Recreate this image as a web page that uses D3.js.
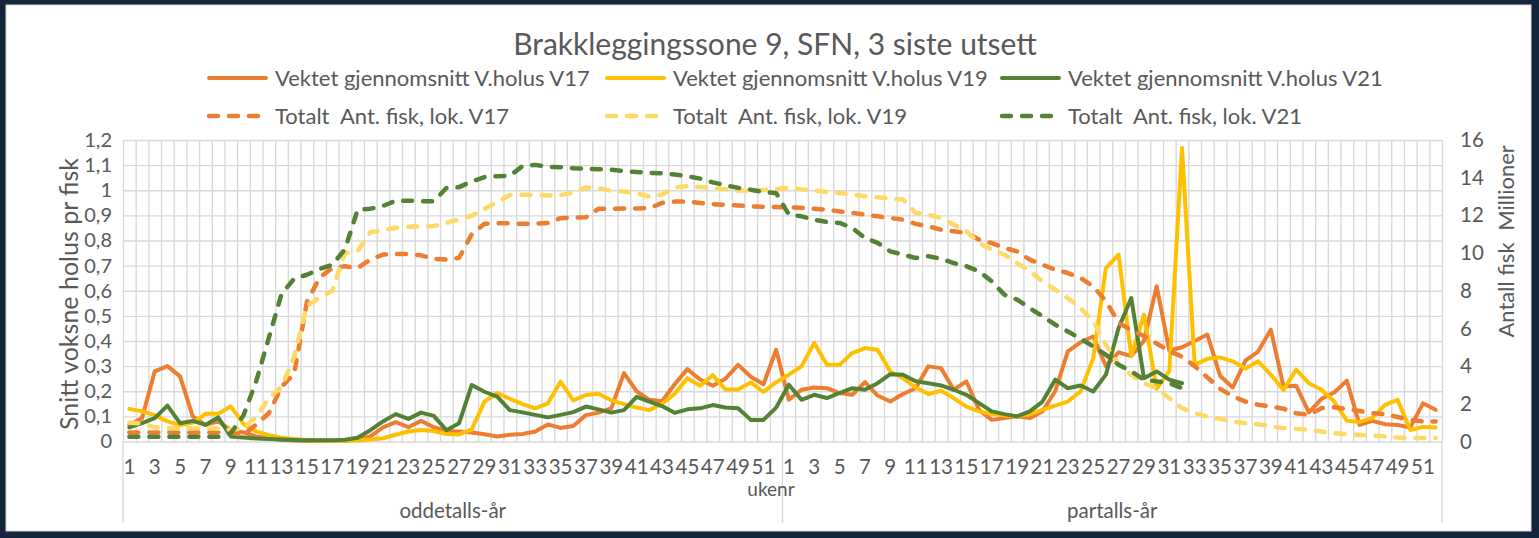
<!DOCTYPE html>
<html>
<head>
<meta charset="utf-8">
<script src="https://cdn.jsdelivr.net/npm/d3@7"></script>
<style>
  body { margin: 0; background: #13243b; }
  text { font-family: Lato, "Open Sans", sans-serif; fill: #595959; }
</style>
</head>
<body>
<div id="chart"></div>
<script>
// week numbers, one year of categories (repeated for odd and even year)
var weeks = [1,2,3,4,5,6,7,8,9,10,11,12,13,14,15,16,17,18,19,20,21,22,23,24,25,26,
             27,28,29,30,31,32,33,34,35,36,37,38,39,40,41,42,43,44,45,46,47,48,49,50,51,52];
var groups = ["oddetalls-år", "partalls-år"];
var leftTicks = [0,0.1,0.2,0.3,0.4,0.5,0.6,0.7,0.8,0.9,1,1.1,1.2];
var rightTicks = [0,2,4,6,8,10,12,14,16];

// Vektet gjennomsnitt V.holus (left axis), odd year then even year
var holusV17 = [0.066,0.093,0.279,0.300,0.259,0.100,0.066,0.080,0.046,0.036,
  0.020,0.013,0.007,0.004,0.003,0.003,0.003,0.003,0.007,0.020,
  0.056,0.077,0.057,0.082,0.057,0.042,0.040,0.036,0.029,0.020,
  0.027,0.030,0.040,0.068,0.054,0.062,0.105,0.115,0.132,0.272,
  0.200,0.166,0.160,0.228,0.288,0.247,0.222,0.250,0.305,0.258,
  0.228,0.365,
  0.166,0.206,0.215,0.212,0.193,0.186,0.236,0.183,0.159,0.189,
  0.212,0.299,0.292,0.206,0.239,0.126,0.086,0.093,0.100,0.093,
  0.120,0.200,0.359,0.395,0.418,0.300,0.355,0.340,0.400,0.618,
  0.362,0.375,0.400,0.426,0.262,0.215,0.322,0.358,0.445,0.220,
  0.222,0.116,0.170,0.195,0.242,0.066,0.082,0.069,0.066,0.056,
  0.152,0.126];
var holusV19 = [0.130,0.120,0.105,0.080,0.065,0.075,0.110,0.110,0.140,0.070,
  0.040,0.025,0.015,0.010,0.006,0.004,0.003,0.003,0.004,0.008,
  0.013,0.027,0.040,0.046,0.042,0.030,0.028,0.048,0.159,0.193,
  0.170,0.149,0.132,0.152,0.238,0.164,0.185,0.190,0.164,0.149,
  0.135,0.125,0.150,0.190,0.252,0.222,0.264,0.207,0.207,0.235,
  0.197,0.236,
  0.266,0.299,0.392,0.305,0.305,0.352,0.372,0.365,0.279,0.252,
  0.215,0.189,0.202,0.173,0.139,0.120,0.109,0.104,0.100,0.109,
  0.126,0.143,0.159,0.199,0.332,0.690,0.744,0.340,0.505,0.210,
  0.280,1.168,0.305,0.329,0.335,0.319,0.290,0.319,0.266,0.205,
  0.286,0.232,0.206,0.159,0.083,0.078,0.093,0.146,0.166,0.046,
  0.058,0.056];
var holusV21 = [0.056,0.073,0.093,0.143,0.073,0.082,0.066,0.096,0.020,0.016,
  0.012,0.010,0.008,0.006,0.005,0.005,0.005,0.007,0.015,0.045,
  0.080,0.109,0.090,0.115,0.102,0.045,0.073,0.225,0.198,0.179,
  0.125,0.116,0.106,0.096,0.106,0.117,0.139,0.128,0.115,0.125,
  0.178,0.159,0.141,0.114,0.128,0.132,0.145,0.135,0.132,0.086,
  0.086,0.135,
  0.226,0.166,0.186,0.173,0.193,0.212,0.206,0.232,0.268,0.266,
  0.240,0.232,0.223,0.206,0.186,0.153,0.120,0.109,0.100,0.120,
  0.159,0.246,0.212,0.223,0.199,0.266,0.452,0.571,0.252,0.279,
  0.246,0.232,null,null,null,null,null,null,null,null,
  null,null,null,null,null,null,null,null,null,null,
  null,null];

// Totalt Ant. fisk, lok. (right axis, millioner)
var fiskV17 = [0.48,0.48,0.48,0.48,0.48,0.48,0.48,0.48,0.45,0.35,
  0.90,1.50,2.90,3.60,7.40,8.70,9.20,9.30,9.20,9.65,
  9.92,9.95,9.95,9.88,9.70,9.65,9.75,11.00,11.55,11.58,
  11.58,11.55,11.55,11.60,11.85,11.88,11.90,12.35,12.35,12.37,
  12.36,12.38,12.66,12.73,12.73,12.66,12.60,12.56,12.52,12.48,
  12.46,12.44,
  12.42,12.40,12.35,12.30,12.21,12.13,12.04,11.95,11.86,11.77,
  11.55,11.42,11.24,11.16,11.07,10.71,10.53,10.27,10.09,9.65,
  9.38,9.12,8.94,8.68,8.23,7.45,6.30,5.90,5.60,5.20,
  4.80,4.50,4.00,3.40,2.80,2.40,2.12,1.95,1.86,1.74,
  1.50,1.42,1.77,1.82,1.72,1.62,1.50,1.45,1.30,1.15,
  1.06,1.06];
var fiskV19 = [1.00,0.95,0.75,0.70,0.70,0.70,0.70,0.68,0.62,0.70,
  1.30,2.30,2.90,4.50,7.20,7.65,8.00,10.00,10.10,11.10,
  11.20,11.34,11.40,11.42,11.43,11.60,11.80,11.98,12.35,12.70,
  13.08,13.10,13.08,13.06,13.08,13.20,13.48,13.45,13.30,13.27,
  13.17,13.00,13.10,13.48,13.55,13.50,13.45,13.38,13.32,13.30,
  13.35,13.40,
  13.46,13.38,13.32,13.25,13.19,13.10,13.02,12.96,12.89,12.84,
  12.13,12.04,11.86,11.51,11.16,10.54,10.18,9.92,9.47,9.03,
  8.50,8.06,7.61,7.08,6.37,5.13,4.07,3.54,3.10,2.83,
  2.30,1.77,1.50,1.33,1.20,1.06,0.97,0.92,0.80,0.71,
  0.67,0.62,0.53,0.44,0.39,0.35,0.32,0.27,0.21,0.18,
  0.18,0.18];
var fiskV21 = [0.25,0.25,0.25,0.25,0.25,0.25,0.25,0.25,0.44,1.38,
  3.19,5.50,7.83,8.64,8.85,9.15,9.38,10.20,12.30,12.35,
  12.50,12.78,12.78,12.75,12.75,13.45,13.50,13.80,14.03,14.08,
  14.10,14.62,14.68,14.58,14.56,14.50,14.48,14.45,14.42,14.35,
  14.30,14.25,14.24,14.17,14.08,13.95,13.75,13.60,13.46,13.36,
  13.24,13.18,
  12.05,11.95,11.77,11.65,11.60,11.33,10.80,10.54,10.09,9.92,
  9.74,9.83,9.70,9.47,9.30,9.03,8.50,7.79,7.53,7.08,
  6.64,6.20,5.84,5.45,5.05,4.60,4.07,3.72,3.28,3.19,
  3.10,2.83,null,null,null,null,null,null,null,null,
  null,null,null,null,null,null,null,null,null,null,
  null,null];

var W = 1539, H = 538;
var plotL = 123, plotR = 1442, plotT = 140, plotB = 441.5;

var svg = d3.select("#chart").append("svg")
    .attr("width", W)
    .attr("height", H);

svg.append("rect").attr("width", W).attr("height", H).attr("fill", "#13243b");
svg.append("rect")
    .attr("x", 6).attr("y", 5)
    .attr("width", W - 14).attr("height", H - 12)
    .attr("fill", "#ffffff")
    .attr("stroke", "#d9d9d9");

// categories: both years after each other
var cats = [];
groups.forEach(function(g, gi) {
    weeks.forEach(function(w) { cats.push({week: w, group: gi}); });
});

var x = d3.scaleBand().domain(d3.range(cats.length)).range([plotL, plotR]);
var xEdge = d3.scaleLinear().domain([0, cats.length]).range([plotL, plotR]);
var yL = d3.scaleLinear().domain([0, 1.2]).range([plotB, plotT]);
var yR = d3.scaleLinear().domain([0, 16]).range([plotB, plotT]);
var cx = function(i) { return x(i) + x.bandwidth() / 2; };

// gridlines
var gridH = svg.append("g")
    .attr("transform", "translate(" + plotL + ",0)")
    .call(d3.axisLeft(yL).tickValues(leftTicks).tickSize(-(plotR - plotL)).tickFormat(""));
var gridV = svg.append("g")
    .attr("transform", "translate(0," + plotB + ")")
    .call(d3.axisBottom(xEdge).tickValues(d3.range(cats.length + 1)).tickSize(-(plotB - plotT)).tickFormat(""));
[gridH, gridV].forEach(function(g) {
    g.select(".domain").remove();
    g.selectAll("line").attr("stroke", "#d9d9d9").attr("stroke-width", 1.4);
});

// axis labels
var fmt = function(v) { return String(+v.toFixed(1)).replace(".", ","); };
var axL = svg.append("g")
    .attr("transform", "translate(" + plotL + ",0)")
    .call(d3.axisLeft(yL).tickValues(leftTicks).tickSize(0).tickPadding(11).tickFormat(fmt));
var axR = svg.append("g")
    .attr("transform", "translate(" + plotR + ",0)")
    .call(d3.axisRight(yR).tickValues(rightTicks).tickSize(0).tickPadding(18));
var axB = svg.append("g")
    .attr("transform", "translate(0," + plotB + ")")
    .call(d3.axisBottom(x).tickSize(0).tickPadding(18)
        .tickFormat(function(i) { return cats[i].week % 2 == 1 ? cats[i].week : ""; }));
[axL, axR, axB].forEach(function(g) {
    g.select(".domain").remove();
    g.selectAll("text").style("font-size", "20.5px").attr("fill", "#595959");
});
axL.selectAll("text").style("font-size", "20px");

// category group separators and labels
svg.append("g").selectAll("line")
    .data([0, 52, 104])
    .enter().append("line")
    .attr("x1", function(d) { return xEdge(d); })
    .attr("x2", function(d) { return xEdge(d); })
    .attr("y1", plotB).attr("y2", 523)
    .attr("stroke", "#d9d9d9").attr("stroke-width", 1.4);

svg.append("g").selectAll("text")
    .data(groups)
    .enter().append("text")
    .attr("x", function(d, i) { return xEdge(i * 52 + 26); })
    .attr("y", 518)
    .attr("text-anchor", "middle")
    .style("font-size", "20.5px")
    .text(function(d) { return d; });

svg.append("text")
    .attr("x", 771).attr("y", 496)
    .attr("text-anchor", "middle")
    .style("font-size", "19px")
    .text("ukenr");

svg.append("text")
    .attr("transform", "translate(78,294) rotate(-90)")
    .attr("text-anchor", "middle")
    .style("font-size", "25px")
    .text("Snitt voksne holus pr fisk");

svg.append("text")
    .attr("transform", "translate(1514,290) rotate(-90)")
    .attr("text-anchor", "middle")
    .style("font-size", "22px")
    .text("Antall fisk");
svg.append("text")
    .attr("transform", "translate(1514,188) rotate(-90)")
    .attr("text-anchor", "middle")
    .style("font-size", "22px")
    .text("Millioner");

svg.append("text")
    .attr("x", 775).attr("y", 55)
    .attr("text-anchor", "middle")
    .style("font-size", "30px")
    .text("Brakkleggingssone 9, SFN, 3 siste utsett");

// series
var series = [
    {name: "Vektet gjennomsnitt V.holus V17", values: holusV17, axis: yL, color: "#ED7D31", dash: null},
    {name: "Vektet gjennomsnitt V.holus V19", values: holusV19, axis: yL, color: "#FFC000", dash: null},
    {name: "Vektet gjennomsnitt V.holus V21", values: holusV21, axis: yL, color: "#548235", dash: null},
    {name: "Totalt  Ant. fisk, lok. V17", values: fiskV17, axis: yR, color: "#ED7D31", dash: "9,11"},
    {name: "Totalt  Ant. fisk, lok. V19", values: fiskV19, axis: yR, color: "#FFD966", dash: "9,11"},
    {name: "Totalt  Ant. fisk, lok. V21", values: fiskV21, axis: yR, color: "#548235", dash: "9,11"}
];

series.forEach(function(s) {
    var line = d3.line()
        .defined(function(d) { return d != null; })
        .x(function(d, i) { return cx(i); })
        .y(function(d) { return s.axis(d); });
    svg.append("path")
        .datum(s.values)
        .attr("d", line)
        .attr("fill", "none")
        .attr("stroke", s.color)
        .attr("stroke-width", s.dash ? 4.5 : 4)
        .attr("stroke-linejoin", "round")
        .attr("stroke-linecap", "round")
        .attr("stroke-dasharray", s.dash);
});

// legend, 3 columns x 2 rows
var legX = [207, 605, 1000];
var legY = [78, 116];
var leg = svg.append("g").selectAll("g")
    .data(series)
    .enter().append("g")
    .attr("transform", function(d, i) {
        return "translate(" + legX[i % 3] + "," + legY[Math.floor(i / 3)] + ")";
    });
leg.append("line")
    .attr("x1", 2).attr("x2", 59)
    .attr("stroke", function(d) { return d.color; })
    .attr("stroke-width", function(d) { return d.dash ? 4.5 : 4; })
    .attr("stroke-linecap", "round")
    .attr("stroke-dasharray", function(d) { return d.dash; });
leg.append("text")
    .attr("x", 68).attr("y", 7.5)
    .style("font-size", "22px")
    .style("white-space", "pre")
    .attr("xml:space", "preserve")
    .text(function(d) { return d.name; });
</script>
</body>
</html>
